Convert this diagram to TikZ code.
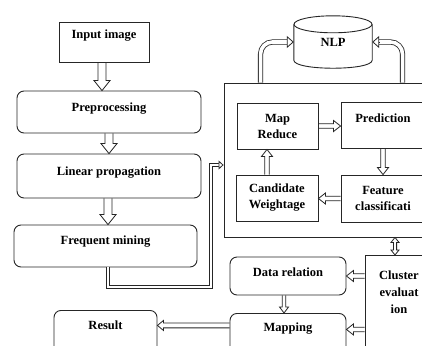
\documentclass[tikz,border=0pt]{standalone}
\usepackage{fontspec}
\setmainfont{Liberation Serif}
\usetikzlibrary{arrows.meta,calc}
% straight hollow block arrow: start, end, half shaft, half head, head length
\newcommand{\blkarrow}[5]{%
  \coordinate (ba-s) at #1; \coordinate (ba-e) at #2;
  \coordinate (ba-b) at ($(ba-e)!#5!(ba-s)$);
  \draw[blkline] ($(ba-s)!#3!90:(ba-e)$) -- ($(ba-b)!#3!90:(ba-e)$) -- ($(ba-b)!#4!90:(ba-e)$)
    -- (ba-e) -- ($(ba-b)!#4!-90:(ba-e)$) -- ($(ba-b)!#3!-90:(ba-e)$) -- ($(ba-s)!#3!-90:(ba-e)$);}
% double-headed hollow block arrow
\newcommand{\blkarrowboth}[5]{%
  \coordinate (bb-s) at #1; \coordinate (bb-e) at #2;
  \coordinate (bb-p) at ($(bb-s)!#5!(bb-e)$); \coordinate (bb-q) at ($(bb-e)!#5!(bb-s)$);
  \draw[blkline] (bb-s) -- ($(bb-p)!#4!90:(bb-e)$) -- ($(bb-p)!#3!90:(bb-e)$) -- ($(bb-q)!#3!90:(bb-e)$)
    -- ($(bb-q)!#4!90:(bb-e)$) -- (bb-e) -- ($(bb-q)!#4!-90:(bb-e)$) -- ($(bb-q)!#3!-90:(bb-e)$)
    -- ($(bb-p)!#3!-90:(bb-e)$) -- ($(bb-p)!#4!-90:(bb-e)$) -- cycle;}
\begin{document}
\begin{tikzpicture}[x=1pt,y=-1pt,
 lbl/.style={font=\bfseries\fontsize{12.5}{16}\selectfont, inner sep=0pt},
 sbox/.style={lbl, draw=black!85, line width=0.9pt},
 rbox/.style={lbl, draw=black!85, line width=0.9pt, rounded corners=7pt},
 blkline/.style={draw=black!85, line width=0.8pt, line join=miter},
 shaftC/.style={draw=black!85, line width=0.8pt, double=white, double distance=2.6pt, shorten >=4.5pt},
 tipC/.style={draw=black!85, line width=0.8pt, -{Triangle[length=5pt,width=9pt,fill=white]}},
 shaftD/.style={draw=black!85, line width=0.8pt, double=white, double distance=3.6pt, shorten >=6pt, rounded corners=12pt},
 tipD/.style={draw=black!85, line width=0.8pt, -{Triangle[length=7pt,width=12pt,fill=white]}},
]
\useasboundingbox (0,0) rectangle (422,345);
\fill[white] (0,0) rectangle (422,345);
\clip (0,0) rectangle (422,345);

% left column
\node[sbox, minimum width=90pt, minimum height=40pt, text depth=16pt] (inp) at (104,42) {Input image};
\node[rbox, minimum width=184pt, minimum height=42pt, text depth=10pt] (pre) at (109,112) {Preprocessing};
\node[rbox, minimum width=184pt, minimum height=44pt, text depth=10pt] (lin) at (109,176) {Linear propagation};
\node[rbox, minimum width=183pt, minimum height=42pt, text depth=12pt] (freq) at (105.5,246) {Frequent mining};

% big box and inner nodes
\node[draw=black!85, line width=0.9pt, minimum width=216pt, minimum height=154pt, inner sep=0pt] (big) at (332,160) {};
\node[sbox, align=center, minimum width=81pt, minimum height=46pt] (map) at (277.5,126) {Map\\Reduce};
\node[sbox, minimum width=84pt, minimum height=46pt, text depth=14pt] (pred) at (383,125) {Prediction};
\node[sbox, align=center, minimum width=82pt, minimum height=46pt] (cand) at (277,198) {Candidate\\Weightage};
\node[sbox, align=center, minimum width=84pt, minimum height=47pt] (feat) at (383,198.5) {Feature\\classificati};

% NLP cylinder
\node[lbl, minimum width=78pt, minimum height=52pt] (nlp) at (333,42) {NLP};
\draw[draw=black!85, line width=0.9pt] ($(nlp.north)+(0,8.5)$) ellipse [x radius=39, y radius=8.5];
\draw[draw=black!85, line width=0.9pt] ($(nlp.north west)+(0,8.5)$) -- ($(nlp.south west)+(0,-8)$)
  .. controls +(0,10.7) and +(0,10.7) .. ($(nlp.south east)+(0,-8)$) -- ($(nlp.north east)+(0,8.5)$);

% lower right
\node[sbox, align=center, anchor=north, minimum width=68pt, inner ysep=15pt,
      font=\bfseries\fontsize{12.5}{17}\selectfont] (clus) at (399,255) {Cluster\\evaluat\\ion\\[40pt]\mbox{}};
\node[rbox, minimum width=116pt, minimum height=38pt, text depth=8pt] (drel) at (288,276) {Data relation};
\node[rbox, anchor=north, minimum width=116pt, text height=18pt, text depth=40pt] (mapp) at (288,313) {Mapping};
\node[rbox, anchor=north, minimum width=103pt, text height=19pt, text depth=40pt] (res) at (105.5,310) {Result};

% left column arrows
\blkarrow{([xshift=-2pt]inp.south)}{([xshift=-2pt]inp.south |- pre.north)}{4pt}{8pt}{10pt}
\blkarrow{(pre.south)}{(pre.south |- lin.north)}{4pt}{8pt}{10pt}
\blkarrow{([xshift=-1pt]lin.south)}{([xshift=-1pt]lin.south |- freq.north)}{4pt}{8pt}{10pt}

% frequent mining to big box
\coordinate (fb) at (211,287);
\coordinate (fc) at (211,165);
\draw[shaftC] ([xshift=2.5pt]freq.south) |- (fb) -- (fc) -- (fc -| big.west);
\draw[tipC] ($(fc -| big.west)+(-5,0)$) -- (fc -| big.west);

% inside big box
\blkarrow{(map.east)}{(map.east -| pred.west)}{2.2pt}{5.5pt}{7pt}
\blkarrow{([xshift=-10pt]cand.north)}{([xshift=-10pt]cand.north |- map.south)}{2.2pt}{5.5pt}{7pt}
\blkarrow{(pred.south)}{(pred.south |- feat.north)}{2.2pt}{5.5pt}{7pt}
\blkarrow{(feat.west)}{(feat.west -| cand.east)}{2.2pt}{5.5pt}{7pt}

% big box <-> cluster
\blkarrowboth{([xshift=-4pt]clus.north |- big.south)}{([xshift=-4pt]clus.north)}{1.6pt}{4pt}{5pt}

% cluster to data relation and mapping
\blkarrow{(clus.west |- drel.east)}{(drel.east)}{2.2pt}{5.5pt}{7pt}
\blkarrow{([xshift=-4pt]drel.south)}{([xshift=-4pt]drel.south |- mapp.north)}{1.8pt}{4.5pt}{6pt}
\coordinate (cm) at ($(mapp.base -| clus.west)+(0,-2)$);
\blkarrow{(cm)}{(cm -| mapp.east)}{2.2pt}{5.5pt}{7pt}

% mapping to result
\coordinate (mr) at ($(mapp.base -| mapp.west)+(0,-6)$);
\blkarrow{(mr)}{(mr -| res.east)}{2.4pt}{5pt}{6pt}

% big box to NLP
\draw[shaftD] ($(big.north west)+(37,0)$) |- (nlp.west);
\draw[tipD] ($(nlp.west)+(-7,0)$) -- (nlp.west);
\draw[shaftD] ($(big.north west)+(179,0)$) |- (nlp.east);
\draw[tipD] ($(nlp.east)+(7,0)$) -- (nlp.east);
\end{tikzpicture}
\end{document}
